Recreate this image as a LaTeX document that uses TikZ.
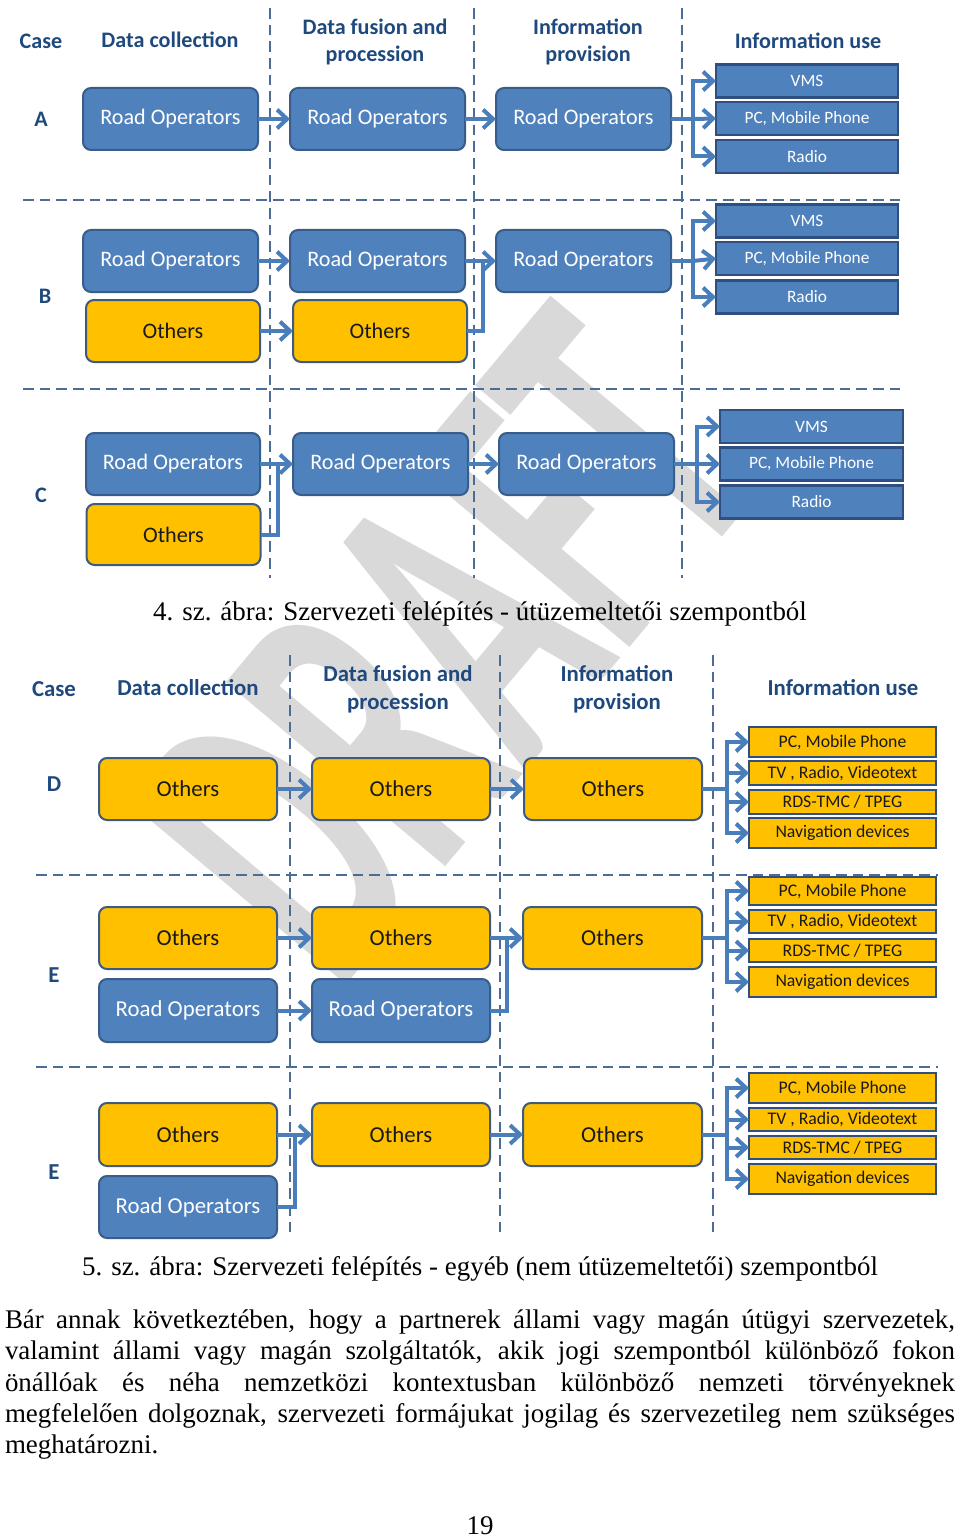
\documentclass[tikz,border=0pt]{standalone}
\usepackage{fontspec}
\setmainfont{Liberation Serif}
\newfontfamily\calfont{Carlito}
\usepackage{graphicx}
\usetikzlibrary{arrows.meta}
\definecolor{hdr}{HTML}{1F497D}
\definecolor{bfill}{HTML}{4F81BD}
\definecolor{bdraw}{HTML}{385D8A}
\definecolor{yfill}{HTML}{FFC000}
\definecolor{ydraw}{HTML}{3E5A7E}
\definecolor{idraw}{HTML}{2F4F80}
\definecolor{arr}{HTML}{4A7EBB}
\definecolor{sepc}{HTML}{4A6C96}
\definecolor{wmc}{HTML}{D9D9D9}
\newcommand\ftop{\calfont\fontsize{16.6}{20}\selectfont}
\newcommand\fbot{\calfont\fontsize{17.1}{20.5}\selectfont}
\newcommand\fhdT{\calfont\bfseries\fontsize{16.6}{20.5}\selectfont}
\newcommand\fhdB{\calfont\bfseries\fontsize{17.1}{21}\selectfont}
\newcommand\finT{\calfont\fontsize{13}{15}\selectfont}
\newcommand\finB{\calfont\fontsize{13.3}{15}\selectfont}
\newcommand\fbody{\fontsize{20.2}{24}\selectfont}
\tikzset{
  every node/.style={inner sep=0pt, outer sep=0pt},
  rbox/.style={draw=bdraw, line width=1.5pt, fill=bfill, rounded corners=6pt, text=white, minimum height=46.5pt, minimum width=131.25pt},
  ybox/.style={draw=ydraw, line width=1.5pt, fill=yfill, rounded corners=6pt, text=black!90, minimum height=46.5pt, minimum width=131.25pt},
  binfo/.style={draw=idraw, line width=2.2pt, fill=bfill, text=white, minimum width=136.5pt, minimum height=24.75pt, font=\finT},
  yinfo/.style={draw=idraw, line width=2.2pt, fill=yfill, text=black!90, minimum width=140.25pt, font=\finB},
  hdT/.style={text=hdr, font=\fhdT, align=center},
  hdB/.style={text=hdr, font=\fhdB, align=center},
  sepline/.style={draw=sepc, line width=1.5pt, dash pattern=on 8pt off 4.5pt},
  conn/.style={draw=arr, line width=3pt},
  tipped/.style={conn, -{Straight Barb[length=7.5pt,width=14pt]}},
  body/.style={font=\fbody, anchor=base west},
}
\begin{document}
\begin{tikzpicture}[x=0.75pt,y=-0.75pt]
\useasboundingbox (0,0) rectangle (960,1537);
% watermark
\node[text=wmc, rotate=50, font=\calfont\bfseries\fontsize{184}{184}\selectfont] (wm) at (445,645) {\scalebox{1}[1.8]{DRAFT}};

% ================= Figure 4 =================
\node[hdT] (hcase1) at (41,41) {Case};
\node[hdT] (hdc1) at (170,40) {Data collection};
\node[hdT] (hdf1) at (375,42) {Data fusion and\\procession};
\node[hdT] (hip1) at (588,42) {Information\\provision};
\node[hdT] (hiu1) at (808,41) {Information use};

\draw[sepline] (270,8) -- (270,578);
\draw[sepline] (474,8) -- (474,578);
\draw[sepline] (682,8) -- (682,578);
\draw[sepline] (23,200) -- (900,200);
\draw[sepline] (23,389) -- (900,389);

% Row A
\node[hdT] (lA) at (41,119) {A};
\node[rbox, font=\ftop] (a1) at (170.5,119) {Road Operators};
\node[rbox, font=\ftop] (a2) at (377.5,119) {Road Operators};
\node[rbox, font=\ftop] (a3) at (583.5,119) {Road Operators};
\node[binfo] (aV) at (807,81) {VMS};
\node[binfo] (aP) at (807,118.5) {PC, Mobile Phone};
\node[binfo] (aR) at (807,156.5) {Radio};
\coordinate (fA) at (693,119);
\draw[tipped] (a1) -- (a2);
\draw[tipped] (a2) -- (a3);
\draw[conn] (a3.east) -- (fA);
\draw[tipped] (fA) |- (aV.west);
\draw[tipped] (fA) -- (aP.west);
\draw[tipped] (fA) |- (aR.west);

% Row B
\node[hdT] (lB) at (45,296) {B};
\node[rbox, font=\ftop] (b1) at (170.5,261) {Road Operators};
\node[ybox, font=\ftop, minimum width=130.5pt] (b1o) at (173,331) {Others};
\node[rbox, font=\ftop] (b2) at (377.5,261) {Road Operators};
\node[ybox, font=\ftop, minimum width=130.5pt] (b2o) at (380,331) {Others};
\node[rbox, font=\ftop] (b3) at (583.5,261) {Road Operators};
\node[binfo] (bV) at (807,221) {VMS};
\node[binfo] (bP) at (807,258.5) {PC, Mobile Phone};
\node[binfo] (bR) at (807,297) {Radio};
\coordinate (mB) at (483,261);
\coordinate (fB) at (693,261);
\draw[tipped] (b1) -- (b2);
\draw[tipped] (b1o) -- (b2o);
\draw[conn] (b2o.east) -| (mB);
\draw[tipped] (b2) -- (b3);
\draw[conn] (b3.east) -- (fB);
\draw[tipped] (fB) |- (bV.west);
\draw[tipped] (fB) -- (bP.west);
\draw[tipped] (fB) |- (bR.west);

% Row C
\node[hdT] (lC) at (41,495) {C};
\node[rbox, font=\ftop, minimum width=130.5pt] (c1) at (173,464) {Road Operators};
\node[ybox, font=\ftop, minimum width=130.5pt, minimum height=45.75pt] (c1o) at (173.5,534.5) {Others};
\node[rbox, font=\ftop] (c2) at (380.5,464) {Road Operators};
\node[rbox, font=\ftop] (c3) at (586.5,464) {Road Operators};
\node[binfo, minimum width=137.25pt] (cV) at (811.5,426.5) {VMS};
\node[binfo, minimum width=137.25pt] (cP) at (811.5,464) {PC, Mobile Phone};
\node[binfo, minimum width=137.25pt] (cR) at (811.5,502) {Radio};
\coordinate (mC) at (278,464);
\coordinate (fC) at (697,464);
\draw[tipped] (c1) -- (c2);
\draw[conn] (c1o.east) -| (mC);
\draw[tipped] (c2) -- (c3);
\draw[conn] (c3.east) -- (fC);
\draw[tipped] (fC) |- (cV.west);
\draw[tipped] (fC) -- (cP.west);
\draw[tipped] (fC) |- (cR.west);

\node[font=\fbody, anchor=base] (cap1) at (480,620) {4. sz. ábra: Szervezeti felépítés - útüzemeltetői szempontból};

% ================= Figure 5 =================
\node[hdB] (hcase2) at (54,689) {Case};
\node[hdB] (hdc2) at (188,688) {Data collection};
\node[hdB] (hdf2) at (398,689) {Data fusion and\\procession};
\node[hdB] (hip2) at (617,689) {Information\\provision};
\node[hdB] (hiu2) at (843,688) {Information use};

\draw[sepline] (290,655) -- (290,1238);
\draw[sepline] (500,655) -- (500,1238);
\draw[sepline] (713,655) -- (713,1238);
\draw[sepline] (36,875) -- (938,875);
\draw[sepline] (36,1067) -- (938,1067);

% Row D
\node[hdB] (lD) at (54,784) {D};
\node[ybox, font=\fbot, minimum width=133.5pt] (d1) at (188,789) {Others};
\node[ybox, font=\fbot, minimum width=133.5pt] (d2) at (401,789) {Others};
\node[ybox, font=\fbot, minimum width=133.5pt] (d3) at (613,789) {Others};
\node[yinfo, minimum height=22.5pt] (dP) at (842.5,742) {PC, Mobile Phone};
\node[yinfo, minimum height=18pt] (dT) at (842.5,773) {TV , Radio, Videotext};
\node[yinfo, minimum height=18pt] (dR) at (842.5,802) {RDS-TMC / TPEG};
\node[yinfo, minimum height=22.5pt] (dN) at (842.5,833) {Navigation devices};
\coordinate (fD) at (727,789);
\draw[tipped] (d1) -- (d2);
\draw[tipped] (d2) -- (d3);
\draw[conn] (d3.east) -- (fD);
\draw[tipped] (fD) |- (dP.west);
\draw[tipped] (fD) |- (dT.west);
\draw[tipped] (fD) |- (dR.west);
\draw[tipped] (fD) |- (dN.west);

% Row E (1)
\node[hdB] (lE1) at (54,975) {E};
\node[ybox, font=\fbot, minimum width=133.5pt] (e1o) at (188,938) {Others};
\node[rbox, font=\fbot, minimum width=133.5pt, minimum height=47.25pt] (e1r) at (188,1010.5) {Road Operators};
\node[ybox, font=\fbot, minimum width=133.5pt] (e2o) at (401,938) {Others};
\node[rbox, font=\fbot, minimum width=133.5pt, minimum height=47.25pt] (e2r) at (401,1010.5) {Road Operators};
\node[ybox, font=\fbot, minimum width=134.25pt] (e3o) at (612.5,938) {Others};
\node[yinfo, minimum height=21pt] (eP) at (842.5,891) {PC, Mobile Phone};
\node[yinfo, minimum height=17.25pt] (eT) at (842.5,921.5) {TV , Radio, Videotext};
\node[yinfo, minimum height=17.25pt] (eR) at (842.5,950.5) {RDS-TMC / TPEG};
\node[yinfo, minimum height=22.5pt] (eN) at (842.5,982) {Navigation devices};
\coordinate (mE) at (507,938);
\coordinate (fE) at (727,938);
\draw[tipped] (e1o) -- (e2o);
\draw[tipped] (e1r) -- (e2r);
\draw[conn] (e2r.east) -| (mE);
\draw[tipped] (e2o) -- (e3o);
\draw[conn] (e3o.east) -- (fE);
\draw[tipped] (fE) |- (eP.west);
\draw[tipped] (fE) |- (eT.west);
\draw[tipped] (fE) |- (eR.west);
\draw[tipped] (fE) |- (eN.west);

% Row E (2)
\node[hdB] (lE2) at (54,1172) {E};
\node[ybox, font=\fbot, minimum width=133.5pt, minimum height=47.25pt] (g1o) at (188,1134.5) {Others};
\node[rbox, font=\fbot, minimum width=133.5pt] (g1r) at (188,1207) {Road Operators};
\node[ybox, font=\fbot, minimum width=133.5pt, minimum height=47.25pt] (g2o) at (401,1134.5) {Others};
\node[ybox, font=\fbot, minimum width=134.25pt, minimum height=47.25pt] (g3o) at (612.5,1134.5) {Others};
\node[yinfo, minimum height=22.5pt] (gP) at (842.5,1088) {PC, Mobile Phone};
\node[yinfo, minimum height=17.25pt] (gT) at (842.5,1119.5) {TV , Radio, Videotext};
\node[yinfo, minimum height=17.25pt] (gR) at (842.5,1147.5) {RDS-TMC / TPEG};
\node[yinfo, minimum height=22.5pt] (gN) at (842.5,1179) {Navigation devices};
\coordinate (mF) at (295,1134.5);
\coordinate (fF) at (727,1134.5);
\draw[tipped] (g1o) -- (g2o);
\draw[conn] (g1r.east) -| (mF);
\draw[tipped] (g2o) -- (g3o);
\draw[conn] (g3o.east) -- (fF);
\draw[tipped] (fF) |- (gP.west);
\draw[tipped] (fF) |- (gT.west);
\draw[tipped] (fF) |- (gR.west);
\draw[tipped] (fF) |- (gN.west);

\node[font=\fbody, anchor=base] (cap2) at (480,1275) {5. sz. ábra: Szervezeti felépítés - egyéb (nem útüzemeltetői) szempontból};

% ================= body text =================
\node[body] (p1) at (5,1328) {\makebox[712.5pt][s]{Bár annak következtében, hogy a partnerek állami vagy magán útügyi szervezetek,}};
\node[body] (p2) at (5,1359) {\makebox[712.5pt][s]{valamint állami vagy magán szolgáltatók, akik jogi szempontból különböző fokon}};
\node[body] (p3) at (5,1391) {\makebox[712.5pt][s]{önállóak és néha nemzetközi kontextusban különböző nemzeti törvényeknek}};
\node[body] (p4) at (5,1422) {\makebox[712.5pt][s]{megfelelően dolgoznak, szervezeti formájukat jogilag és szervezetileg nem szükséges}};
\node[body] (p5) at (5,1453) {meghatározni.};
\node[font=\fbody, anchor=base] (pg) at (480,1534) {19};
\end{tikzpicture}
\end{document}
